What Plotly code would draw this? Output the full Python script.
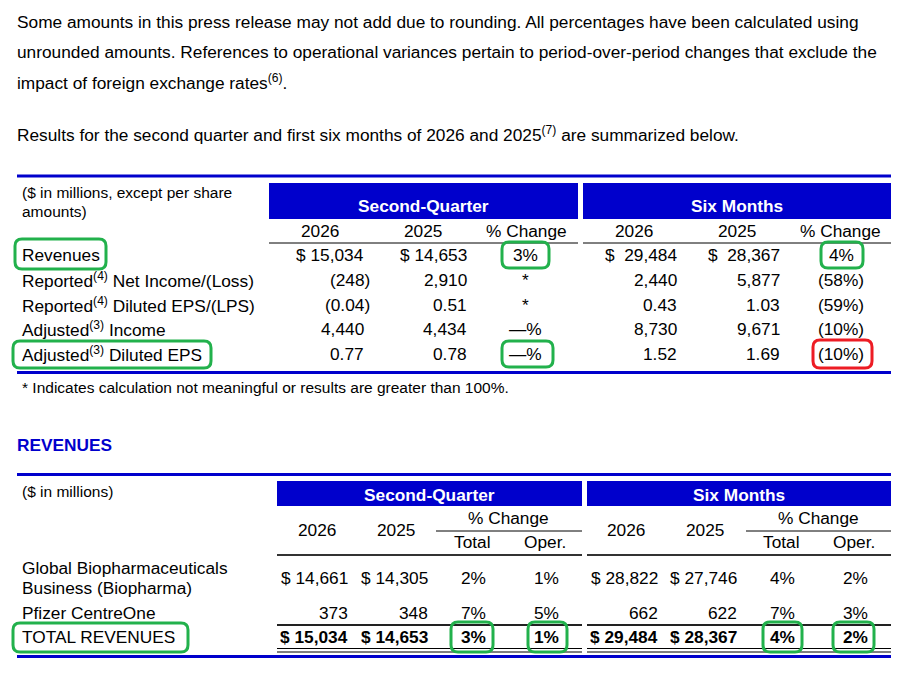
"""
Pfizer Q2 results summary tables, redrawn with plotly shapes and annotations.
"""

import plotly.graph_objects as go

W, H = 919, 678
FONT = "Liberation Sans, Arial, sans-serif"
BODY = 17.3
NOTE = 15.5
BLUE = "#0000CC"
GREEN = "#22B14C"
RED = "#ED1C24"

# ---- text ----
intro_lines = [
    "Some amounts in this press release may not add due to rounding. All percentages have been calculated using",
    "unrounded amounts. References to operational variances pertain to period-over-period changes that exclude the",
    "impact of foreign exchange rates<sup>(6)</sup>.",
]
results_line = ("Results for the second quarter and first six months of 2026 and 2025"
                "<sup>(7)</sup> are summarized below.")
footnote = "* Indicates calculation not meaningful or results are greater than 100%."
section_title = "REVENUES"

periods = ["Second-Quarter", "Six Months"]
years = ["2026", "2025"]

# ---- summary table ----
summary_note = ["($ in millions, except per share", "amounts)"]
summary_labels = [
    "Revenues",
    "Reported<sup>(4)</sup> Net Income/(Loss)",
    "Reported<sup>(4)</sup> Diluted EPS/(LPS)",
    "Adjusted<sup>(3)</sup> Income",
    "Adjusted<sup>(3)</sup> Diluted EPS",
]
summary_decimals = [0, 0, 2, 0, 2]
q2_2026 = [15034, -248, -0.04, 4440, 0.77]
q2_2025 = [14653, 2910, 0.51, 4434, 0.78]
q2_change = [3, None, None, 0, 0]
six_2026 = [29484, 2440, 0.43, 8730, 1.52]
six_2025 = [28367, 5877, 1.03, 9671, 1.69]
six_change = [4, -58, -59, -10, -10]

# ---- revenues table ----
revenue_note = "($ in millions)"
revenue_labels = [["Global Biopharmaceuticals", "Business (Biopharma)"],
                  ["Pfizer CentreOne"], ["TOTAL REVENUES"]]
rev_q2_2026 = [14661, 373, 15034]
rev_q2_2025 = [14305, 348, 14653]
rev_q2_total = [2, 7, 3]
rev_q2_oper = [1, 5, 1]
rev_six_2026 = [28822, 662, 29484]
rev_six_2025 = [27746, 622, 28367]
rev_six_total = [4, 7, 4]
rev_six_oper = [2, 3, 2]


def fmt_num(v, dec=0, dollar=False, prefix="$ "):
    s = f"{abs(v):,.{dec}f}"
    if v < 0:
        s = f"({s})"
    return prefix + s if dollar else s


def fmt_pct(v):
    if v is None:
        return "*"
    if v == 0:
        return "\u2014%"
    if v < 0:
        return f"({abs(v)}%)"
    return f"{v}%"


fig = go.Figure(go.Scatter(x=[], y=[], hoverinfo="skip"))


def text(x, y, s, size=BODY, anchor="left", color="black", bold=False):
    if bold:
        s = f"<b>{s}</b>"
    fig.add_annotation(x=x, y=y, xref="x", yref="y", text=s, showarrow=False,
                       xanchor=anchor, yanchor="middle", borderpad=0, borderwidth=0,
                       font=dict(family=FONT, size=size, color=color))


def num(x_right, y, s, bold=False):
    # closing parenthesis hangs past the column edge
    if s.endswith(")"):
        x_right += 5.8
    text(x_right, y, s, anchor="right", bold=bold)


def hline(x0, x1, y, width=1, color="black"):
    fig.add_shape(type="line", xref="x", yref="y", x0=x0, x1=x1, y0=y, y1=y,
                  line=dict(color=color, width=width))


def band(x0, x1, y0, y1, label, text_y):
    fig.add_shape(type="rect", xref="x", yref="y", x0=x0, x1=x1, y0=y0, y1=y1,
                  fillcolor=BLUE, line=dict(width=0), layer="below")
    text((x0 + x1) / 2, text_y, label, anchor="center", color="white", bold=True)


def ring(x0, x1, y0, y1, color=GREEN, r=7):
    path = (f"M {x0 + r},{y0} L {x1 - r},{y0} Q {x1},{y0} {x1},{y0 + r} "
            f"L {x1},{y1 - r} Q {x1},{y1} {x1 - r},{y1} L {x0 + r},{y1} "
            f"Q {x0},{y1} {x0},{y1 - r} L {x0},{y0 + r} Q {x0},{y0} {x0 + r},{y0} Z")
    fig.add_shape(type="path", xref="x", yref="y", path=path,
                  line=dict(color=color, width=3))


# ---- intro paragraph ----
for line, y in zip(intro_lines, [21.5, 51.5, 81.5]):
    text(17, y, line)
text(17, 133.5, results_line)

# ---- summary table ----
hline(17, 891, 176, 3, BLUE)
hline(17, 891, 372.5, 3, BLUE)
band(269, 578, 183, 219, periods[0], 205.5)
band(583, 891, 183, 219, periods[1], 205.5)
hline(269, 578, 243)
hline(583, 891, 243)
text(22, 192, summary_note[0], size=NOTE)
text(22, 211, summary_note[1], size=NOTE)

for yr, x in zip(years + years, [320, 423, 634, 737]):
    text(x, 231, yr, anchor="center")
for x in [526, 840]:
    text(x, 231, "% Change", anchor="center")

row_y = [255, 280, 305, 329, 354]
for i, y in enumerate(row_y):
    d = summary_decimals[i]
    first = i == 0
    text(22, y, summary_labels[i])
    num(364, y, fmt_num(q2_2026[i], d, first))
    num(467, y, fmt_num(q2_2025[i], d, first))
    text(525, y, fmt_pct(q2_change[i]), anchor="center")
    num(677, y, fmt_num(six_2026[i], d, first, "$\u00a0\u00a0"))
    num(780, y, fmt_num(six_2025[i], d, first, "$\u00a0\u00a0"))
    text(841, y, fmt_pct(six_change[i]), anchor="center")

text(22, 387.5, footnote, size=NOTE)
text(17, 445, section_title, color=BLUE, bold=True)

# ---- revenues table ----
hline(17, 891, 474.5, 3, BLUE)
hline(17, 891, 656.5, 3, BLUE)
band(277, 582, 481, 506, periods[0], 494.5)
band(587, 891, 481, 506, periods[1], 494.5)
text(22, 491.5, revenue_note, size=NOTE)

for x0, x1, xs in [(277, 582, [317, 396, 508, 472, 545]),
                   (587, 891, [626, 705, 818, 781, 854])]:
    text(xs[0], 529.5, years[0], anchor="center")
    text(xs[1], 529.5, years[1], anchor="center")
    text(xs[2], 518, "% Change", anchor="center")
    text(xs[3], 542, "Total", anchor="center")
    text(xs[4], 542, "Oper.", anchor="center")
    hline(x0 + 159, x1, 531)
    hline(x0, x1, 555, 2, "#333333")
    hline(x0, x1, 625, 2, "#222222")
    hline(x0, x1, 648.5)
    hline(x0, x1, 652)

rev_y = [578, 613, 636.5]
for i, y in enumerate(rev_y):
    bold = i == len(rev_y) - 1
    dollar = i != 1
    lines = revenue_labels[i]
    for k, line in enumerate(lines):
        text(22, y + (k - (len(lines) - 1) / 2) * 20.5, line)
    num(348, y, fmt_num(rev_q2_2026[i], 0, dollar), bold)
    num(428, y, fmt_num(rev_q2_2025[i], 0, dollar), bold)
    text(473, y, fmt_pct(rev_q2_total[i]), anchor="center", bold=bold)
    text(546, y, fmt_pct(rev_q2_oper[i]), anchor="center", bold=bold)
    num(658, y, fmt_num(rev_six_2026[i], 0, dollar), bold)
    num(737, y, fmt_num(rev_six_2025[i], 0, dollar), bold)
    text(782, y, fmt_pct(rev_six_total[i]), anchor="center", bold=bold)
    text(855, y, fmt_pct(rev_six_oper[i]), anchor="center", bold=bold)

# ---- hand-drawn highlights ----
ring(15, 106, 239, 269)
ring(502, 549, 242, 268)
ring(821, 863, 242, 268)
ring(13, 211, 341, 368)
ring(502, 553, 341, 367)
ring(813, 872, 340, 368, RED)
ring(13, 188, 623, 652)
ring(451, 493, 622, 652)
ring(528, 567, 622, 652)
ring(763, 802, 622, 652)
ring(833, 874, 622, 652)

fig.update_layout(
    width=W, height=H,
    margin=dict(l=0, r=0, t=0, b=0),
    paper_bgcolor="white", plot_bgcolor="white",
    xaxis=dict(range=[0, W], visible=False, fixedrange=True),
    yaxis=dict(range=[H, 0], visible=False, fixedrange=True),
    showlegend=False,
)

fig.write_html("out.html", config={"displayModeBar": False},
               post_script="document.body.style.margin = '0';")
